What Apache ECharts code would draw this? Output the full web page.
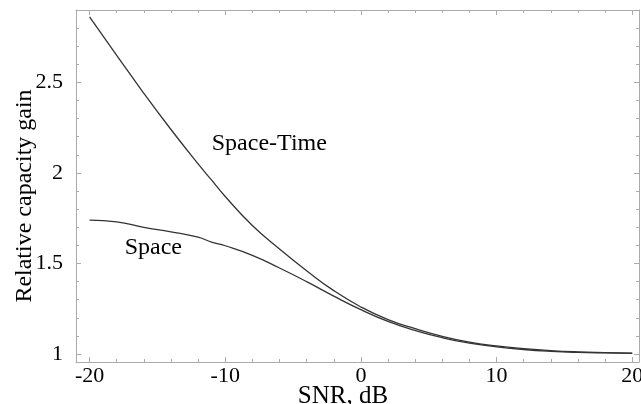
<!DOCTYPE html>
<html>
<head>
<meta charset="utf-8">
<script src="https://cdn.jsdelivr.net/npm/echarts@6/dist/echarts.min.js"></script>
<style>
  html, body { margin: 0; padding: 0; background: #fff; }
  #chart { width: 641px; height: 404px; }
</style>
</head>
<body>
<div id="chart"></div>
<script>
// SNR in dB
var snr = [-20, -18, -16, -14, -12, -11, -10, -8, -6, -4, -2, 0, 2, 4, 6, 8, 10, 12, 14, 16, 18, 20]
// relative capacity gain
var spaceTime = [2.862, 2.65, 2.44, 2.24, 2.05, 1.96, 1.87, 1.71, 1.58, 1.46, 1.35, 1.26, 1.19, 1.14, 1.098, 1.066, 1.045, 1.03, 1.019, 1.012, 1.008, 1.005]
var space = [1.74, 1.73, 1.70, 1.675, 1.645, 1.618, 1.598, 1.545, 1.475, 1.40, 1.32, 1.245, 1.18, 1.13, 1.09, 1.06, 1.04, 1.025, 1.015, 1.009, 1.006, 1.004]

var xMajor = [-20, -10, 0, 10, 20]
var xMinor = [-18, -16, -14, -12, -8, -6, -4, -2, 2, 4, 6, 8, 12, 14, 16, 18]
var yMajor = [1, 1.5, 2, 2.5]
var yMinor = [1.1, 1.2, 1.3, 1.4, 1.6, 1.7, 1.8, 1.9, 2.1, 2.2, 2.3, 2.4, 2.6, 2.7, 2.8]

// annotation positions in data space [snr, gain]
var labelSpaceTime = [-6.75, 2.16]
var labelSpace = [-15.3, 1.585]

var font = 'Liberation Serif, Times New Roman, serif'
var frameColor = '#ababab'
var lineColor = '#333'

function fmt(v) { return String(v) }

function xAx(pos, ticks, len, withLine, withLabel) {
  return {
    type: 'value', position: pos, min: -21, max: 20.5,
    axisLine: { show: withLine, onZero: false, lineStyle: { color: frameColor, width: 1 } },
    axisTick: { show: true, inside: true, length: len, customValues: ticks, lineStyle: { color: frameColor } },
    axisLabel: withLabel ? {
      show: true, customValues: ticks, formatter: fmt, margin: 3,
      color: '#000', fontSize: 22, fontFamily: font
    } : { show: false },
    splitLine: { show: false }
  }
}

function yAx(pos, ticks, len, withLine, withLabel) {
  return {
    type: 'value', position: pos, min: 0.956, max: 2.9,
    axisLine: { show: withLine, onZero: false, lineStyle: { color: frameColor, width: 1 } },
    axisTick: { show: true, inside: true, length: len, customValues: ticks, lineStyle: { color: frameColor } },
    axisLabel: withLabel ? {
      show: true, customValues: ticks, formatter: fmt, margin: 13,
      color: '#000', fontSize: 22, fontFamily: font
    } : { show: false },
    splitLine: { show: false }
  }
}

var xBottom = xAx('bottom', xMajor, 5, true, true)
xBottom.name = 'SNR, dB'
xBottom.nameLocation = 'middle'
xBottom.nameGap = 22
xBottom.nameMoveOverlap = false
xBottom.nameTextStyle = { color: '#000', fontSize: 25, fontFamily: font, padding: [0, 29, 0, 0] }

var yLeft = yAx('left', yMajor, 5, true, true)
yLeft.name = 'Relative capacity gain'
yLeft.nameLocation = 'middle'
yLeft.nameGap = 39
yLeft.nameMoveOverlap = false
yLeft.nameTextStyle = { color: '#000', fontSize: 24, fontFamily: font, padding: [0, 20, 0, 0] }

var chart = echarts.init(document.getElementById('chart'))
chart.setOption({
  animation: false,
  backgroundColor: '#fff',
  grid: { left: 76, right: 2, top: 10, bottom: 42, outerBoundsMode: 'none' },
  xAxis: [
    xBottom,
    xAx('bottom', xMinor, 3, false, false),
    xAx('top', xMajor, 5, true, false),
    xAx('top', xMinor, 3, false, false)
  ],
  yAxis: [
    yLeft,
    yAx('left', yMinor, 3, false, false),
    yAx('right', yMajor, 5, true, false),
    yAx('right', yMinor, 3, false, false)
  ],
  series: [
    {
      name: 'Space-Time', type: 'line', smooth: true, showSymbol: false,
      data: snr.map(function (x, i) { return [x, spaceTime[i]] }),
      lineStyle: { color: lineColor, width: 1.3 },
      markPoint: {
        symbol: 'circle', symbolSize: 0,
        label: { show: true, formatter: 'Space-Time', color: '#000', fontSize: 24, fontFamily: font, position: 'inside' },
        data: [{ coord: labelSpaceTime }]
      }
    },
    {
      name: 'Space', type: 'line', smooth: true, showSymbol: false,
      data: snr.map(function (x, i) { return [x, space[i]] }),
      lineStyle: { color: lineColor, width: 1.3 },
      markPoint: {
        symbol: 'circle', symbolSize: 0,
        label: { show: true, formatter: 'Space', color: '#000', fontSize: 24, fontFamily: font, position: 'inside' },
        data: [{ coord: labelSpace }]
      }
    }
  ]
})
</script>
</body>
</html>
